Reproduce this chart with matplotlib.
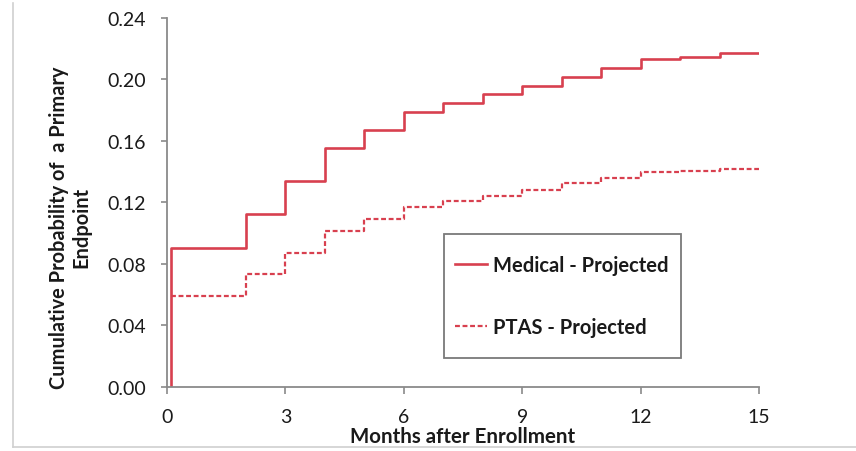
import numpy as np
import matplotlib.pyplot as plt
from matplotlib.lines import Line2D
from matplotlib.patches import Rectangle

plt.rcParams['font.family'] = ['Lato', 'DejaVu Sans']

# Step curves, value holds from each month until the next one
months = [0.1, 2, 3, 4, 5, 6, 7, 8, 9, 10, 11, 12, 13, 14, 15]
medical = [0.0904, 0.1125, 0.134, 0.1555, 0.167, 0.179, 0.1847, 0.1906,
           0.1958, 0.2016, 0.2075, 0.2133, 0.2146, 0.2172, 0.2172]
ptas = [0.0592, 0.0735, 0.0872, 0.1015, 0.1093, 0.117, 0.121, 0.124,
        0.128, 0.1327, 0.136, 0.1398, 0.1405, 0.1418, 0.1418]

x_ticks = [0, 3, 6, 9, 12, 15]
y_ticks = [0.00, 0.04, 0.08, 0.12, 0.16, 0.20, 0.24]

red = '#d8404f'
axis_gray = '#8a8a8a'
text_col = '#1a1a1a'

fig = plt.figure(figsize=(8.56, 4.52), dpi=100)
ax = fig.add_axes([0.1951, 0.1416, 0.6916, 0.8164])

# curves start at zero just after enrollment
mx = [months[0]] + months
my = [0.0] + medical
ax.step(mx, my, where='post', color=red, lw=1.9, label='Medical - Projected')
ax.step(months, ptas, where='post', color=red, lw=1.6,
        linestyle=(0, (2.2, 1.2)), label='PTAS - Projected')

ax.set_xlim(0, 15)
ax.set_ylim(0, 0.24)
ax.set_xticks(x_ticks)
ax.set_yticks(y_ticks)
ax.set_yticklabels([f'{v:.2f}' for v in y_ticks])

for side in ['top', 'right']:
    ax.spines[side].set_visible(False)
for side in ['left', 'bottom']:
    ax.spines[side].set_color(axis_gray)
    ax.spines[side].set_linewidth(1.3)
ax.tick_params(axis='both', colors=axis_gray, labelcolor=text_col,
               labelsize=14, length=4, width=1.2)
ax.tick_params(axis='x', direction='out', length=5, pad=10)
ax.tick_params(axis='y', pad=11)

ax.set_xlabel('Months after Enrollment', fontsize=14.8, fontweight='bold',
              color=text_col, labelpad=1)
ax.set_ylabel('Cumulative Probability of  a Primary\nEndpoint', fontsize=14.4,
              fontweight='bold', color=text_col, linespacing=1.2)
ax.yaxis.set_label_coords(-0.127, 0.434)

# legend entries without frame, box drawn separately for its wider top/bottom padding
leg = ax.legend(loc='center left', bbox_to_anchor=(0.4865, 0.2466), fontsize=14.5,
                handlelength=1.6, handletextpad=0.3, labelspacing=2.08,
                borderpad=0, borderaxespad=0, frameon=False)
for t in leg.get_texts():
    t.set_color(text_col)
    t.set_fontweight('bold')
ax.add_patch(Rectangle((0.468, 0.0786), 0.400, 0.336, transform=ax.transAxes,
                       facecolor='white', edgecolor='#7a7a7a', lw=1.3, zorder=4))
leg.set_zorder(5)

# faint outer frame of the chart area
fig.add_artist(Line2D([13 / 856, 13 / 856], [4 / 452, 448 / 452],
                      color='#d0d0d0', lw=1.2))
fig.add_artist(Line2D([13 / 856, 1.0], [4 / 452, 4 / 452],
                      color='#d0d0d0', lw=1.2))

fig.savefig('out.png', dpi=100)
